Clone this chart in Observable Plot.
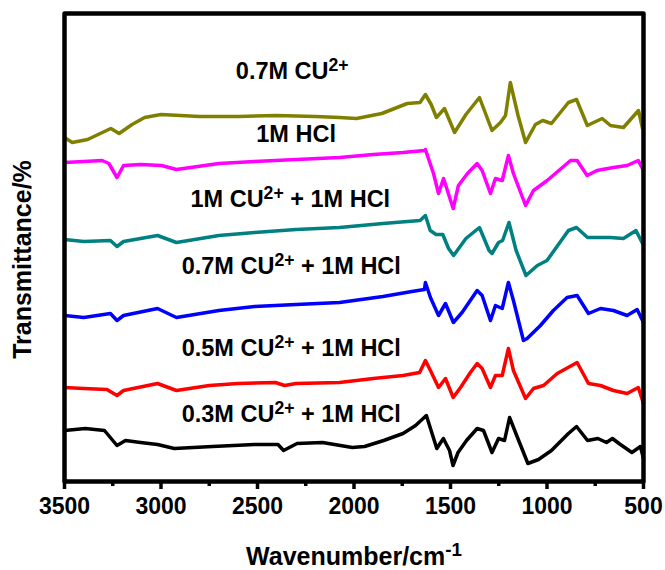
<!DOCTYPE html>
<html>
<head>
<meta charset="utf-8">
<script src="https://cdn.jsdelivr.net/npm/d3@7"></script>
<script src="https://cdn.jsdelivr.net/npm/@observablehq/plot@0.6"></script>
<style>
  html, body { margin: 0; padding: 0; background: #fff; }
</style>
</head>
<body>
<div id="chart"></div>
<script>
// ---- Data (stacked FTIR spectra, transmittance in arbitrary offset units) ----
const wn_07Cu = [3500,3460,3380,3282,3260,3217,3150,3085,3000,2800,2600,2400,2200,2075,1987,1856,1724,1658,1630,1600,1573,1531,1479,1420,1350,1285,1241,1215,1190,1150,1111,1060,1022,977,889,847,791,714,671,604,526,505];
const tr_07Cu = [344,339,342,351,353,348,357,364,367,365,365,366,365,364,363,368,378,379,387,377,364,373,349,367,384,351,359,366,399,366,339,357,361,358,379,382,356,363,356,354,371,353];

const wn_HCl = [3500,3400,3305,3270,3228,3194,3106,2997,2920,2700,2515,2300,2075,1900,1746,1635,1630,1588,1562,1536,1486,1459,1412,1362,1336,1293,1267,1232,1200,1174,1111,1070,999,878,844,792,741,656,585,527,500];
const tr_HCl = [319,320,321,318,304,316,317,316,312,318,320,322,324,327,329,331,332,308,288,303,273,296,308,318,311,288,303,301,326,308,276,291,301,321,321,306,311,314,316,321,311];

const wn_1Cu = [3500,3400,3262,3228,3194,3018,2920,2700,2515,2300,2075,1850,1658,1630,1605,1575,1540,1510,1484,1420,1350,1300,1285,1251,1230,1197,1160,1109,1050,1000,889,847,790,671,604,539,505];
const tr_1Cu = [242,240,241,235,240,246,239,246,249,252,254,258,261,266,251,247,247,233,226,243,254,231,228,239,241,259,231,206,216,221,251,254,244,244,243,251,238];

const wn_07CuH = [3500,3400,3262,3228,3194,3018,2920,2700,2515,2300,2075,1850,1700,1635,1630,1604,1562,1526,1485,1440,1362,1336,1293,1267,1232,1200,1174,1122,1103,1034,967,896,844,785,723,656,585,533,500];
const tr_07CuH = [166,164,168,161,166,173,164,171,175,177,179,185,190,192,199,184,166,178,159,169,191,186,161,176,173,199,181,141,143,156,171,184,186,168,173,171,166,172,159];

const wn_05CuH = [3500,3400,3280,3228,3194,3018,2920,2750,2600,2407,2360,2300,2075,1900,1746,1660,1630,1604,1562,1526,1486,1448,1397,1362,1336,1293,1267,1232,1200,1174,1111,1070,1018,947,844,785,723,656,585,527,500];
const tr_05CuH = [94,93,92,86,91,98,91,96,98,99,96,98,99,103,106,109,121,111,94,103,84,94,109,118,113,94,106,106,133,111,83,93,96,108,119,98,96,91,88,94,78];

const wn_03CuH = [3500,3392,3293,3228,3184,3106,3018,2931,2733,2515,2394,2365,2295,2163,2009,1945,1846,1746,1681,1625,1571,1537,1505,1487,1461,1417,1362,1329,1285,1251,1220,1194,1153,1099,1044,977,889,847,790,736,692,661,627,560,516,500];
const tr_03CuH = [51,53,51,36,41,39,37,33,35,37,37,31,38,39,34,35,41,48,56,66,33,43,31,16,29,41,53,51,29,43,41,64,44,18,22,31,48,55,41,43,39,43,38,29,35,23];

const seriesNames  = ["0.7M Cu2+", "1M HCl", "1M Cu2+ + 1M HCl", "0.7M Cu2+ + 1M HCl", "0.5M Cu2+ + 1M HCl", "0.3M Cu2+ + 1M HCl"];
const seriesColors = ["#808000", "#ff00ff", "#008080", "#0000ff", "#ff0000", "#000000"];
const seriesWn = [wn_07Cu, wn_HCl, wn_1Cu, wn_07CuH, wn_05CuH, wn_03CuH];
const seriesTr = [tr_07Cu, tr_HCl, tr_1Cu, tr_07CuH, tr_05CuH, tr_03CuH];

// Curve labels ({...} = superscript)
const labelText = ["0.7M CU{2+}", "1M HCl", "1M CU{2+} + 1M HCl", "0.7M CU{2+} + 1M HCl", "0.5M CU{2+} + 1M HCl", "0.3M CU{2+} + 1M HCl"];
const labelWn = [2320, 2300, 2330, 2325, 2325, 2325];
const labelTr = [403, 340, 275, 208, 126, 60];

const majorTicks = [3500, 3000, 2500, 2000, 1500, 1000, 500];
const minorTicks = [3250, 2750, 2250, 1750, 1250, 750];

const xTitle = "Wavenumber/cm{-1}";
const yTitle = "Transmittance/%";

// ---- Build ----
const lineMarks = seriesNames.map((name, k) =>
  Plot.line(seriesWn[k].map((w, i) => ({w, t: seriesTr[k][i]})), {
    x: "w", y: "t", stroke: seriesColors[k], strokeWidth: 3.5,
    strokeLinejoin: "round", strokeLinecap: "round"
  })
);
const labels = labelText.map((text, i) => ({text, w: labelWn[i], t: labelTr[i]}));

const svg = Plot.plot({
  width: 665, height: 570,
  marginLeft: 64, marginRight: 22, marginTop: 13, marginBottom: 89,
  x: {domain: [3500, 500], label: null},
  y: {domain: [0, 468], axis: null},
  style: {fontFamily: "'Liberation Sans', Arial, sans-serif", fontWeight: "bold", background: "#fff", color: "#000", overflow: "visible"},
  marks: [
    ...lineMarks,
    Plot.text(labels, {x: "w", y: "t", text: "text", fontSize: 23.5, fontWeight: "bold", lineAnchor: "bottom", textAnchor: "middle", fill: "#000"}),
    Plot.axisX({ticks: minorTicks, tickSize: 5, strokeWidth: 3.5, tickFormat: () => "", label: null}),
    Plot.axisX({ticks: majorTicks, tickSize: 8, tickPadding: 8, strokeWidth: 3.5, fontSize: 23, fontWeight: "bold", tickFormat: d => String(d), label: null}),
    Plot.frame({stroke: "#000", strokeWidth: 4.5, strokeLinejoin: "round"}),
    Plot.text([yTitle], {text: d => d, frameAnchor: "left", textAnchor: "middle", rotate: -90, dx: -42, dy: 12, fontSize: 25, fontWeight: "bold", fill: "#000"}),
    Plot.text([xTitle], {text: d => d, frameAnchor: "bottom", textAnchor: "middle", dy: 83, lineAnchor: "bottom", fontSize: 25, fontWeight: "bold", fill: "#000"})
  ]
});

// Superscripts: convert "{...}" into raised tspans
svg.querySelectorAll("text").forEach(el => {
  const s = el.textContent;
  if (!s.includes("{")) return;
  const parts = s.split(/(\{[^}]*\})/).filter(p => p.length);
  while (el.firstChild) el.removeChild(el.firstChild);
  parts.forEach(p => {
    const ts = document.createElementNS("http://www.w3.org/2000/svg", "tspan");
    if (p.startsWith("{")) {
      ts.textContent = p.slice(1, -1);
      ts.setAttribute("baseline-shift", "45%");
      ts.setAttribute("font-size", "75%");
    } else {
      ts.textContent = p;
    }
    el.appendChild(ts);
  });
});

document.getElementById("chart").appendChild(svg);
</script>
</body>
</html>
